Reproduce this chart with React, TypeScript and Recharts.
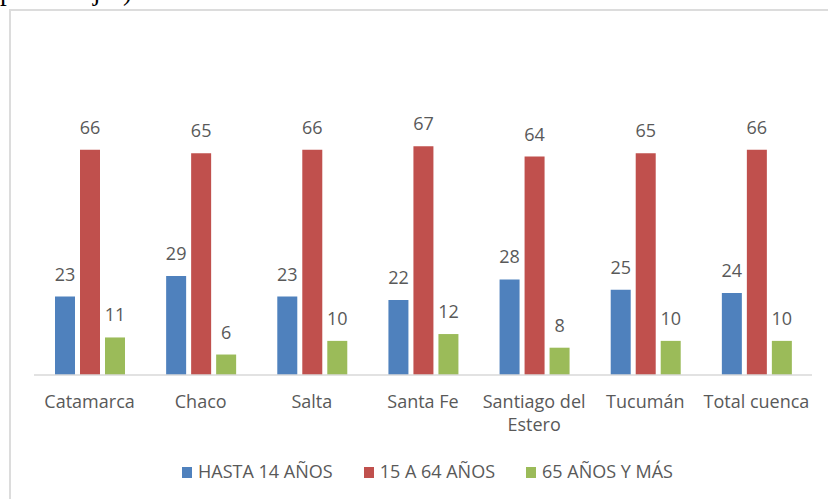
import React from "react";
import { BarChart, Bar, XAxis, YAxis, Legend, LabelList } from "recharts";

// provincias de la cuenca (el salto de línea parte la etiqueta larga)
const categories = [
  "Catamarca",
  "Chaco",
  "Salta",
  "Santa Fe",
  "Santiago del\nEstero",
  "Tucumán",
  "Total cuenca",
];
const hasta14 = [23, 29, 23, 22, 28, 25, 24];
const de15a64 = [66, 65, 66, 67, 64, 65, 66];
const mas65 = [11, 6, 10, 12, 8, 10, 10];

const seriesNames = ["HASTA 14 AÑOS", "15 A 64 AÑOS", "65 AÑOS Y MÁS"];
const colors = ["#4F81BD", "#C0504D", "#9BBB59"];

const FONT = '"Open Sans", "Noto Sans", sans-serif';
const TEXT = "#595959";

const chartData = categories.map((c, i) => ({
  name: c,
  [seriesNames[0]]: hasta14[i],
  [seriesNames[1]]: de15a64[i],
  [seriesNames[2]]: mas65[i],
}));

const CategoryTick = (props: any) => {
  const { x, y, payload } = props;
  const lines = String(payload.value).split("\n");
  return (
    <text x={x} y={y} textAnchor="middle" fill={TEXT} fontSize={18} fontFamily={FONT}>
      {lines.map((l, i) => (
        <tspan key={i} x={x} dy={i === 0 ? 33 : 23}>
          {l}
        </tspan>
      ))}
    </text>
  );
};

const LegendContent = () => (
  <div
    style={{
      display: "flex",
      justifyContent: "center",
      alignItems: "center",
      paddingLeft: 27,
      height: 24,
      fontFamily: FONT,
      fontSize: 18,
      color: TEXT,
    }}
  >
    {seriesNames.map((n, i) => (
      <div
        key={n}
        style={{ display: "flex", alignItems: "center", marginRight: i < 2 ? 31 : 0 }}
      >
        <span
          style={{
            display: "inline-block",
            width: 10,
            height: 11,
            background: colors[i],
            marginRight: 6,
            marginTop: 3,
          }}
        />
        <span>{n}</span>
      </div>
    ))}
  </div>
);

export default function App() {
  return (
    <div
      style={{
        position: "absolute",
        left: 0,
        top: 0,
        width: 828,
        height: 499,
        overflow: "hidden",
        background: "#fff",
      }}
    >
      {/* resto del título, cortado por el borde superior como en la captura */}
      <div
        style={{
          position: "absolute",
          left: 0,
          top: -22,
          fontFamily: '"Liberation Serif", serif',
          fontSize: 27,
          lineHeight: "27px",
          color: "#000",
          whiteSpace: "nowrap",
        }}
      >
        porcentajes)
      </div>
      <div
        style={{
          position: "absolute",
          left: 9,
          top: 9,
          width: 850,
          height: 520,
          border: "2px solid #dcdcdc",
        }}
      />
      <BarChart
        width={828}
        height={499}
        data={chartData}
        margin={{ top: 102, right: 16, left: 34, bottom: 40 }}
        barSize={20}
        barGap={5}
        style={{ position: "absolute", left: 0, top: 0 }}
      >
        <XAxis
          dataKey="name"
          interval={0}
          height={60}
          tick={<CategoryTick />}
          tickLine={false}
          tickSize={0}
          tickMargin={0}
          axisLine={{ stroke: "#d9d9d9", strokeWidth: 1.5 }}
        />
        <YAxis hide domain={[0, 80]} />
        <Legend
          verticalAlign="bottom"
          content={<LegendContent />}
          wrapperStyle={{ top: 459, bottom: "auto", left: 0, width: 828, height: 24 }}
        />
        {seriesNames.map((n, i) => (
          <Bar key={n} dataKey={n} fill={colors[i]} isAnimationActive={false}>
            <LabelList
              dataKey={n}
              position="top"
              offset={16}
              fill={TEXT}
              fontSize={18}
              fontFamily={FONT}
            />
          </Bar>
        ))}
      </BarChart>
    </div>
  );
}
